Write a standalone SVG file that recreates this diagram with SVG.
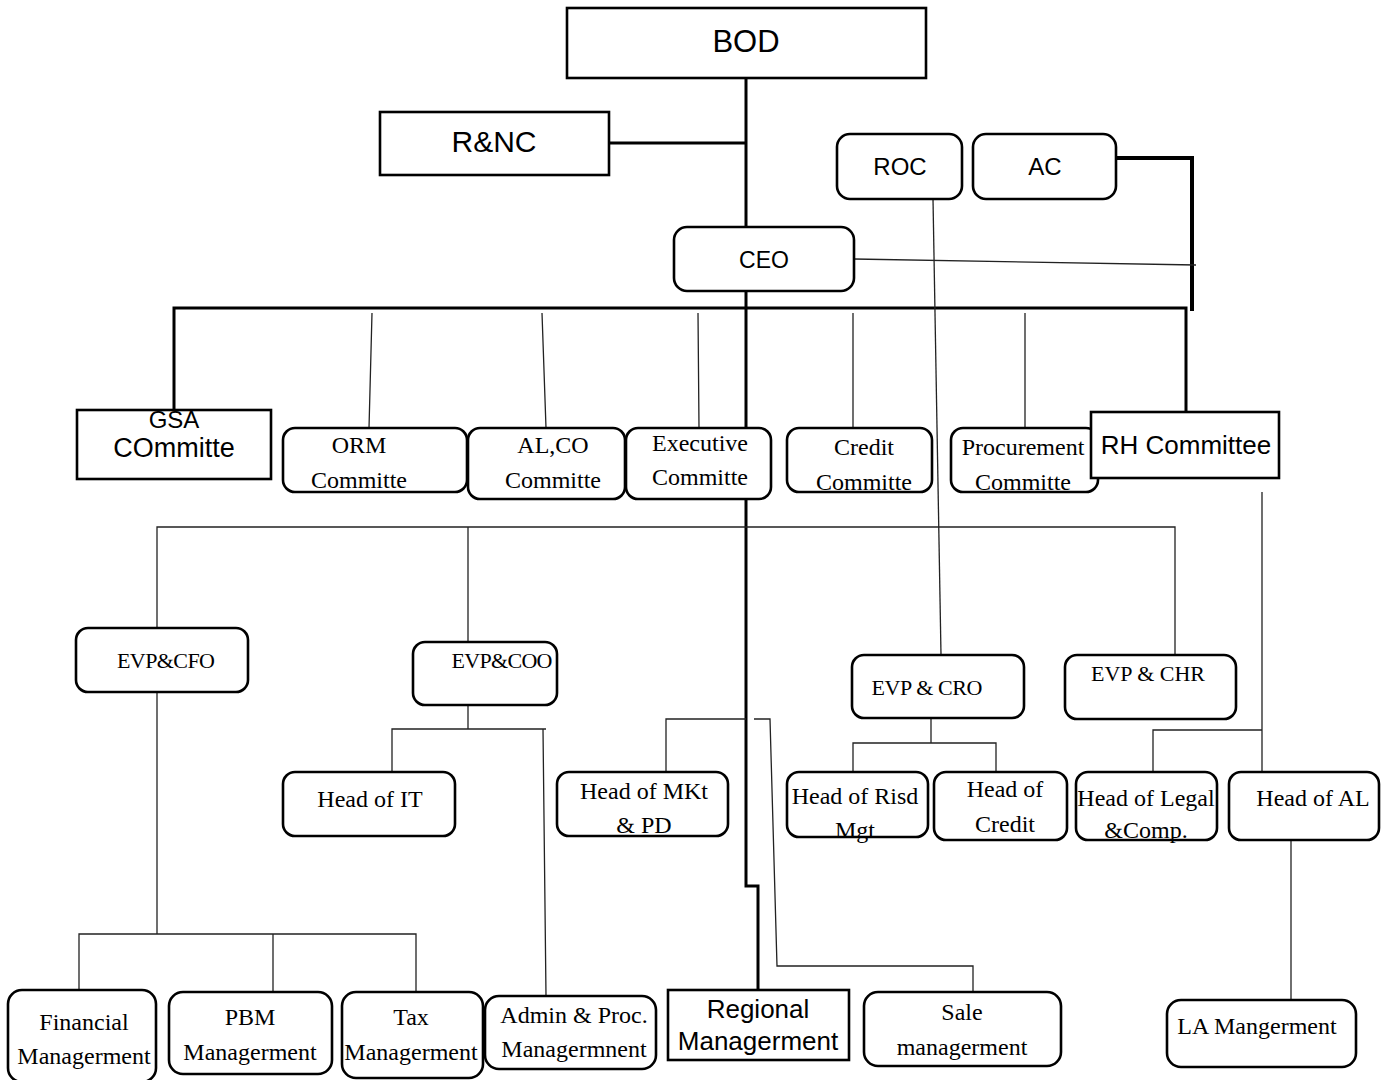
<svg xmlns="http://www.w3.org/2000/svg" width="1391" height="1080" viewBox="0 0 1391 1080">
<style>
.sq{fill:#fff;stroke:#000;stroke-width:2.6}
.rb{fill:#fff;stroke:#000;stroke-width:2.6}
.thick{fill:none;stroke:#000;stroke-width:3}
.thin{fill:none;stroke:#222;stroke-width:1.3}
.sans{font-family:"Liberation Sans",Arial,sans-serif;fill:#000;text-anchor:middle}
.serif{font-family:"Liberation Serif","Times New Roman",serif;font-size:24px;fill:#000;text-anchor:middle}
.caps{font-size:22px}
</style>
<rect width="1391" height="1080" fill="#fff"/>
<g id="connectors">
<path class="thick" d="M746,78 V886 H758 V990"/>
<path class="thick" d="M609,143 H746" stroke-width="2.6"/>
<path class="thick" d="M1110,158 H1193 M1192,156 V311" style="stroke-width:4"/>
<path class="thin" d="M854,259 L1196,265"/>
<path class="thick" d="M174,410 V308 H1186 V412"/>
<path class="thin" d="M372,313 L369,428 M542,313 L546,428 M698,313 L699,428 M853,313 V428 M1025,313 V428"/>
<path class="thin" d="M933,199 L941,655"/>
<path class="thin" d="M157,628 V527 H1175 V655 M468,527 V642"/>
<path class="thin" d="M1262,492 V772 M1153,772 V730 H1262"/>
<path class="thin" d="M157,692 V934 M79,990 V934 H416 V992 M273,934 V992"/>
<path class="thin" d="M468,705 V729 M392,772 V729 H546 M543,729 L546,996"/>
<path class="thin" d="M666,772 V719 H746 M754,719 H770 L777,966 H973 V992"/>
<path class="thin" d="M931,718 V743 M853,772 V743 H996 V772"/>
<path class="thin" d="M1291,840 V1000"/>
</g>
<g id="bod"><rect class="sq" x="567" y="8" width="359" height="70"/><text class="sans" x="746" y="52" font-size="31">BOD</text></g>
<g id="rnc"><rect class="sq" x="380" y="112" width="229" height="63"/><text class="sans" x="494" y="152" font-size="30">R&amp;NC</text></g>
<g id="roc"><rect class="rb" x="837" y="134" width="125" height="65" rx="13"/><text class="sans" x="900" y="175" font-size="24">ROC</text></g>
<g id="ac"><rect class="rb" x="973" y="134" width="143" height="65" rx="13"/><text class="sans" x="1045" y="175" font-size="24">AC</text></g>
<g id="ceo"><rect class="rb" x="674" y="227" width="180" height="64" rx="13"/><text class="sans" x="764" y="268" font-size="23">CEO</text></g>
<g id="gsa"><rect class="sq" x="77" y="410" width="194" height="69"/><text class="sans" x="174" y="428" font-size="24">GSA</text><text class="sans" x="174" y="457" font-size="27">COmmitte</text></g>
<g id="orm"><rect class="rb" x="283" y="428" width="184" height="64" rx="12"/><text class="serif" x="359" y="453">ORM</text><text class="serif" x="359" y="488">Committe</text></g>
<g id="alco"><rect class="rb" x="468" y="428" width="157" height="71" rx="12"/><text class="serif" x="553" y="453">AL,CO</text><text class="serif" x="553" y="488">Committe</text></g>
<g id="exec"><rect class="rb" x="626" y="428" width="145" height="71" rx="12"/><text class="serif" x="700" y="451">Executive</text><text class="serif" x="700" y="485">Committe</text></g>
<g id="credit"><rect class="rb" x="787" y="428" width="145" height="64" rx="12"/><text class="serif" x="864" y="455">Credit</text><text class="serif" x="864" y="490">Committe</text></g>
<g id="procurement"><rect class="rb" x="951" y="428" width="147" height="64" rx="12"/><text class="serif" x="1023" y="455">Procurement</text><text class="serif" x="1023" y="490">Committe</text></g>
<g id="rh"><rect class="sq" x="1091" y="412" width="188" height="66"/><text class="sans" x="1186" y="454" font-size="26">RH Committee</text></g>
<g id="cfo"><rect class="rb" x="76" y="628" width="172" height="64" rx="12"/><text class="serif caps" x="166" y="668" textLength="98">EVP&amp;CFO</text></g>
<g id="coo"><rect class="rb" x="413" y="642" width="144" height="63" rx="12"/><text class="serif caps" x="502" y="668" textLength="101">EVP&amp;COO</text></g>
<g id="cro"><rect class="rb" x="852" y="655" width="172" height="63" rx="12"/><text class="serif caps" x="927" y="695" textLength="111">EVP &amp; CRO</text></g>
<g id="chr"><rect class="rb" x="1065" y="655" width="171" height="64" rx="12"/><text class="serif caps" x="1148" y="681" textLength="114">EVP &amp; CHR</text></g>
<g id="it"><rect class="rb" x="283" y="772" width="172" height="64" rx="12"/><text class="serif" x="370" y="807">Head of IT</text></g>
<g id="mkt"><rect class="rb" x="557" y="772" width="171" height="64" rx="12"/><text class="serif" x="644" y="799">Head of MKt</text><text class="serif" x="644" y="833">&amp; PD</text></g>
<g id="risk"><rect class="rb" x="787" y="772" width="141" height="65" rx="12"/><text class="serif" x="855" y="804">Head of Risd</text><text class="serif" x="855" y="838">Mgt</text></g>
<g id="hcredit"><rect class="rb" x="934" y="772" width="133" height="68" rx="12"/><text class="serif" x="1005" y="797">Head of</text><text class="serif" x="1005" y="832">Credit</text></g>
<g id="legal"><rect class="rb" x="1076" y="772" width="141" height="68" rx="12"/><text class="serif" x="1146" y="806">Head of Legal</text><text class="serif" x="1146" y="838">&amp;Comp.</text></g>
<g id="al"><rect class="rb" x="1229" y="772" width="150" height="68" rx="12"/><text class="serif" x="1313" y="806">Head of AL</text></g>
<g id="fin"><rect class="rb" x="8" y="990" width="148" height="92" rx="14"/><text class="serif" x="84" y="1030">Financial</text><text class="serif" x="84" y="1064">Managerment</text></g>
<g id="pbm"><rect class="rb" x="169" y="992" width="163" height="82" rx="14"/><text class="serif" x="250" y="1025">PBM</text><text class="serif" x="250" y="1060">Managerment</text></g>
<g id="tax"><rect class="rb" x="342" y="992" width="141" height="86" rx="14"/><text class="serif" x="411" y="1025">Tax</text><text class="serif" x="411" y="1060">Managerment</text></g>
<g id="admin"><rect class="rb" x="485" y="996" width="171" height="73" rx="14"/><text class="serif" x="574" y="1023">Admin &amp; Proc.</text><text class="serif" x="574" y="1057">Managermnent</text></g>
<g id="regional"><rect class="sq" x="668" y="990" width="181" height="70"/><text class="sans" x="758" y="1018" font-size="26">Regional</text><text class="sans" x="758" y="1050" font-size="26">Managerment</text></g>
<g id="sale"><rect class="rb" x="864" y="992" width="197" height="74" rx="14"/><text class="serif" x="962" y="1020">Sale</text><text class="serif" x="962" y="1055">managerment</text></g>
<g id="la"><rect class="rb" x="1167" y="1000" width="189" height="67" rx="14"/><text class="serif" x="1257" y="1034">LA Mangerment</text></g>
</svg>
